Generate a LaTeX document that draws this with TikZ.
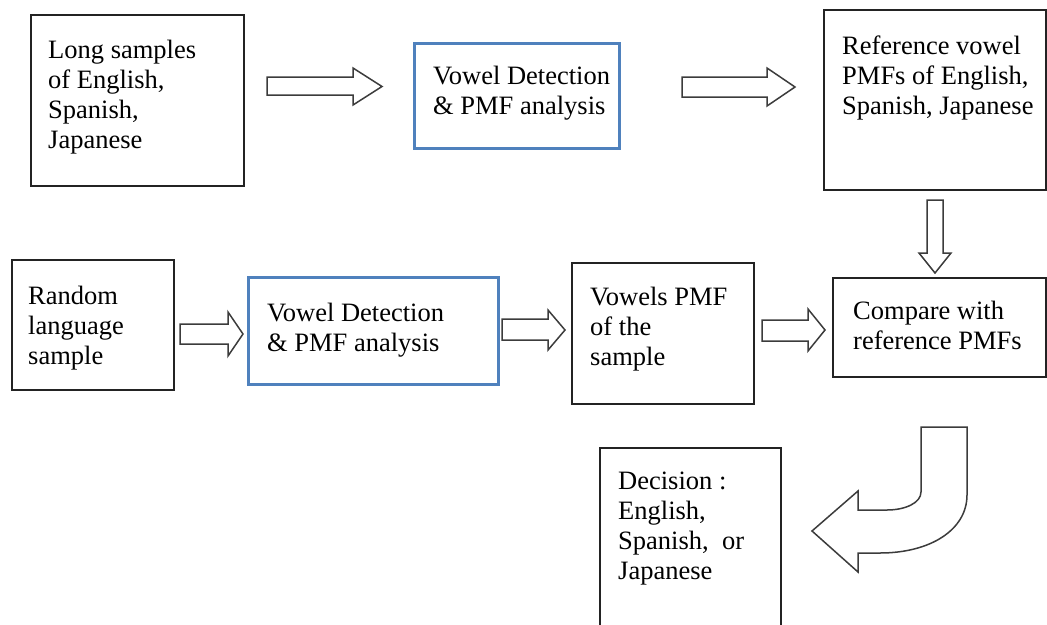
\documentclass[tikz,border=0pt]{standalone}
\usepackage{fontspec}
\setmainfont{Liberation Serif}
\definecolor{boxblue}{RGB}{79,129,189}
\definecolor{edge}{RGB}{35,35,35}
\definecolor{arrowgray}{RGB}{60,60,60}
\begin{document}
\begin{tikzpicture}[x=1pt,y=-1pt,
  box/.style={draw=edge, line width=1.5pt, fill=white, anchor=north west, inner sep=0pt},
  bluebox/.style={draw=boxblue, line width=3pt, fill=white, anchor=north west, inner sep=0pt},
  txt/.style={anchor=north west, inner sep=0pt, align=left, font=\fontsize{26.5}{30}\selectfont},
  blockarrow/.style={draw=arrowgray, line width=1.5pt, fill=white, line join=miter}]
\useasboundingbox (0,0) rectangle (1047,624);
\clip (0,0) rectangle (1047,624);

% boxes
\node[box, minimum width=213, minimum height=171] (long) at (30,14) {};
\node[bluebox, minimum width=205, minimum height=105] (vd1) at (413,42) {};
\node[box, minimum width=222, minimum height=180] (ref) at (823,9) {};
\node[box, minimum width=162, minimum height=130] (rand) at (11,259) {};
\node[bluebox, minimum width=250, minimum height=107] (vd2) at (247,276) {};
\node[box, minimum width=182, minimum height=141] (vpmf) at (571,262) {};
\node[box, minimum width=213, minimum height=99] (cmp) at (832,277) {};
\node[box, minimum width=181, minimum height=200] (dec) at (599,447) {};

% texts
\node[txt] (longt) at (48,40) {Long samples\\of English,\\Spanish,\\Japanese};
\node[txt] (vd1t) at (433,66) {Vowel Detection\\\& PMF analysis};
\node[txt] (reft) at (842,36) {Reference vowel\\PMFs of English,\\Spanish, Japanese};
\node[txt] (randt) at (28,286) {Random\\language\\sample};
\node[txt] (vd2t) at (267,303) {Vowel Detection\\\& PMF analysis};
\node[txt] (vpmft) at (590,287) {Vowels PMF\\of the\\sample};
\node[txt] (cmpt) at (853,301) {Compare with\\reference PMFs};
\node[txt] (dect) at (618,472) {Decision :\\English,\\Spanish,\ \ or\\Japanese};

% block arrows
\draw[blockarrow] (267,77) -- (353,77) -- (353,68) -- (382,86.5) -- (353,105) -- (353,95) -- (267,95) -- cycle;
\draw[blockarrow] (682,77) -- (767,77) -- (767,68) -- (795,87) -- (767,106) -- (767,97) -- (682,97) -- cycle;
\draw[blockarrow] (927,200) -- (943,200) -- (943,253) -- (951,253) -- (935,273) -- (919,253) -- (927,253) -- cycle;
\draw[blockarrow] (180,324) -- (228,324) -- (228,312) -- (243,334) -- (228,356) -- (228,344) -- (180,344) -- cycle;
\draw[blockarrow] (502,319) -- (548,319) -- (548,310) -- (565,330) -- (548,350) -- (548,340) -- (502,340) -- cycle;
\draw[blockarrow] (762,320) -- (808,320) -- (808,309) -- (825,330) -- (808,351) -- (808,341) -- (762,341) -- cycle;
\draw[blockarrow] (921,427) -- (967,427) -- (967,495)
  .. controls (967,530) and (930,553) .. (880,553) -- (858,553) -- (858,572)
  -- (812,531) -- (858,491) -- (858,510) -- (887,510)
  .. controls (905,510) and (921,503) .. (921,492) -- cycle;
\end{tikzpicture}
\end{document}
